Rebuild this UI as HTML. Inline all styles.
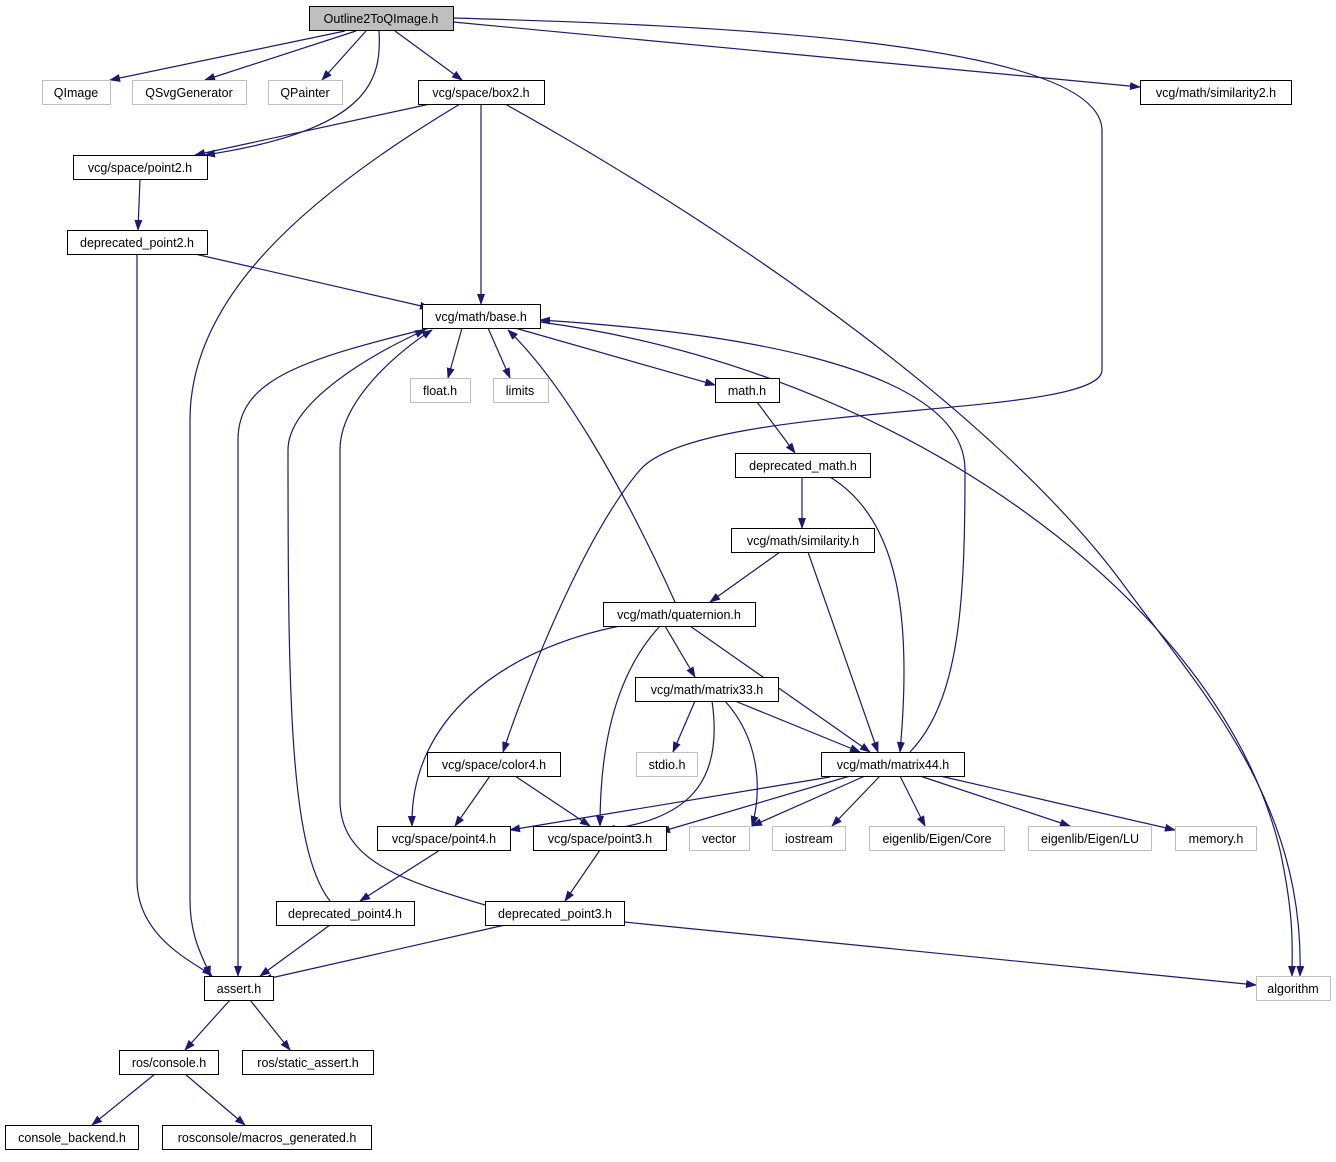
<!DOCTYPE html>
<html><head><meta charset="utf-8"><style>
html,body{margin:0;padding:0;background:#fff;}
svg text{font-family:"Liberation Sans",Arial,sans-serif;font-size:12.5px;fill:#000;}
</style></head><body>
<svg width="1336" height="1157" viewBox="0 0 1336 1157" xmlns="http://www.w3.org/2000/svg">
<defs>
<marker id="a" markerWidth="11" markerHeight="8" refX="10" refY="4" orient="auto" markerUnits="userSpaceOnUse">
<path d="M0,0 L11,4 L0,8 Z" fill="#191970"/></marker>
</defs>
<g fill="none" stroke="#191970" stroke-width="1.2" marker-end="url(#a)">
<path d="M345,31 L110,80"/>
<path d="M356,31 L205,80"/>
<path d="M366,31 L322,80"/>
<path d="M379,31 C382,80 370,130 205,155"/>
<path d="M395,31 L462,80"/>
<path d="M453,22 L1140,87"/>
<path d="M453,18 C700,25 1100,40 1102,130 L1102,370 C1102,420 700,400 640,470 C580,540 520,700 503,752"/>
<path d="M430,104 L195,155"/>
<path d="M460,104 C300,200 190,300 190,420 L190,900 C190,940 205,960 210,976"/>
<path d="M481,104 L481,304"/>
<path d="M505,104 C750,240 1000,420 1120,580 C1200,690 1305,800 1300,976"/>
<path d="M140,179 L138,230"/>
<path d="M195,254 L430,308"/>
<path d="M137,254 L137,880 C137,940 200,965 212,976"/>
<path d="M462,328 L448,378"/>
<path d="M488,328 L510,378"/>
<path d="M515,328 L715,385"/>
<path d="M430,328 C300,360 238,380 238,440 L238,976"/>
<path d="M540,322 C900,370 1220,600 1280,850 C1295,920 1292,950 1292,976"/>
<path d="M757,402 L795,453"/>
<path d="M802,477 L802,528"/>
<path d="M830,477 C900,520 912,620 900,752"/>
<path d="M780,552 L710,602"/>
<path d="M808,552 L878,752"/>
<path d="M675,602 C620,480 560,380 508,330"/>
<path d="M665,626 L695,677"/>
<path d="M690,626 L870,752"/>
<path d="M620,626 C500,650 410,720 412,826"/>
<path d="M660,626 C610,680 600,760 600,826"/>
<path d="M695,701 L673,752"/>
<path d="M735,701 L860,752"/>
<path d="M712,701 C725,790 680,820 605,830"/>
<path d="M725,701 C760,740 762,790 752,826"/>
<path d="M910,752 C960,700 965,600 965,470 C965,360 700,330 540,320"/>
<path d="M830,777 L510,830"/>
<path d="M850,776 L660,832"/>
<path d="M865,776 L752,826"/>
<path d="M880,776 L832,826"/>
<path d="M900,776 L925,826"/>
<path d="M920,776 L1070,826"/>
<path d="M940,776 L1175,830"/>
<path d="M490,776 L455,826"/>
<path d="M515,776 L590,826"/>
<path d="M440,850 L360,901"/>
<path d="M600,850 L565,901"/>
<path d="M330,901 C290,850 288,700 288,450 C288,400 380,350 425,330"/>
<path d="M330,925 L260,976"/>
<path d="M485,905 C400,880 340,860 340,800 L340,450 C340,400 400,350 432,330"/>
<path d="M505,925 L262,980"/>
<path d="M624,922 L1256,985"/>
<path d="M230,1000 L185,1050"/>
<path d="M250,1000 L290,1050"/>
<path d="M155,1074 L92,1125"/>
<path d="M185,1074 L245,1125"/>
</g>
<g stroke-width="1">
<rect x="309.5" y="6.5" width="144" height="24" fill="#bfbfbf" stroke="#000"/>
<g fill="#fff" stroke="#bfbfbf">
<rect x="42.5" y="80.5" width="68" height="24"/>
<rect x="132.5" y="80.5" width="114" height="24"/>
<rect x="268.5" y="80.5" width="74" height="24"/>
<rect x="410.5" y="378.5" width="60" height="24"/>
<rect x="493.5" y="378.5" width="55" height="24"/>
<rect x="636.5" y="752.5" width="61" height="24"/>
<rect x="689.5" y="826.5" width="60" height="24"/>
<rect x="772.5" y="826.5" width="73" height="24"/>
<rect x="869.5" y="826.5" width="135" height="24"/>
<rect x="1028.5" y="826.5" width="123" height="24"/>
<rect x="1175.5" y="826.5" width="81" height="24"/>
<rect x="1256.5" y="976.5" width="74" height="24"/>
</g>
<g fill="#fff" stroke="#000">
<rect x="418.5" y="80.5" width="126" height="24"/>
<rect x="1140.5" y="80.5" width="151" height="24"/>
<rect x="73.5" y="155.5" width="134" height="24"/>
<rect x="67.5" y="230.5" width="140" height="24"/>
<rect x="422.5" y="304.5" width="118" height="24"/>
<rect x="715.5" y="378.5" width="64" height="24"/>
<rect x="735.5" y="453.5" width="135" height="24"/>
<rect x="731.5" y="528.5" width="143" height="24"/>
<rect x="603.5" y="602.5" width="152" height="24"/>
<rect x="635.5" y="677.5" width="143" height="24"/>
<rect x="427.5" y="752.5" width="133" height="24"/>
<rect x="821.5" y="752.5" width="143" height="24"/>
<rect x="377.5" y="826.5" width="133" height="24"/>
<rect x="533.5" y="826.5" width="133" height="24"/>
<rect x="276.5" y="901.5" width="138" height="24"/>
<rect x="485.5" y="901.5" width="139" height="24"/>
<rect x="204.5" y="976.5" width="69" height="24"/>
<rect x="119.5" y="1050.5" width="99" height="24"/>
<rect x="242.5" y="1050.5" width="131" height="24"/>
<rect x="5.5" y="1125.5" width="133" height="24"/>
<rect x="162.5" y="1125.5" width="209" height="24"/>
</g>
</g>
<g text-anchor="middle">
<text x="381" y="23">Outline2ToQImage.h</text>
<text x="76" y="97" fill="#000">QImage</text>
<text x="189" y="97">QSvgGenerator</text>
<text x="305" y="97">QPainter</text>
<text x="481" y="97">vcg/space/box2.h</text>
<text x="1216" y="97">vcg/math/similarity2.h</text>
<text x="140" y="172">vcg/space/point2.h</text>
<text x="137" y="247">deprecated_point2.h</text>
<text x="481" y="321">vcg/math/base.h</text>
<text x="440" y="395">float.h</text>
<text x="520" y="395">limits</text>
<text x="747" y="395">math.h</text>
<text x="803" y="470">deprecated_math.h</text>
<text x="803" y="545">vcg/math/similarity.h</text>
<text x="679" y="619">vcg/math/quaternion.h</text>
<text x="707" y="694">vcg/math/matrix33.h</text>
<text x="494" y="769">vcg/space/color4.h</text>
<text x="667" y="769">stdio.h</text>
<text x="893" y="769">vcg/math/matrix44.h</text>
<text x="444" y="843">vcg/space/point4.h</text>
<text x="600" y="843">vcg/space/point3.h</text>
<text x="719" y="843">vector</text>
<text x="809" y="843">iostream</text>
<text x="937" y="843">eigenlib/Eigen/Core</text>
<text x="1090" y="843">eigenlib/Eigen/LU</text>
<text x="1216" y="843">memory.h</text>
<text x="345" y="918">deprecated_point4.h</text>
<text x="555" y="918">deprecated_point3.h</text>
<text x="239" y="993">assert.h</text>
<text x="1293" y="993">algorithm</text>
<text x="169" y="1067">ros/console.h</text>
<text x="308" y="1067">ros/static_assert.h</text>
<text x="72" y="1142">console_backend.h</text>
<text x="267" y="1142">rosconsole/macros_generated.h</text>
</g>
</svg>
</body></html>
